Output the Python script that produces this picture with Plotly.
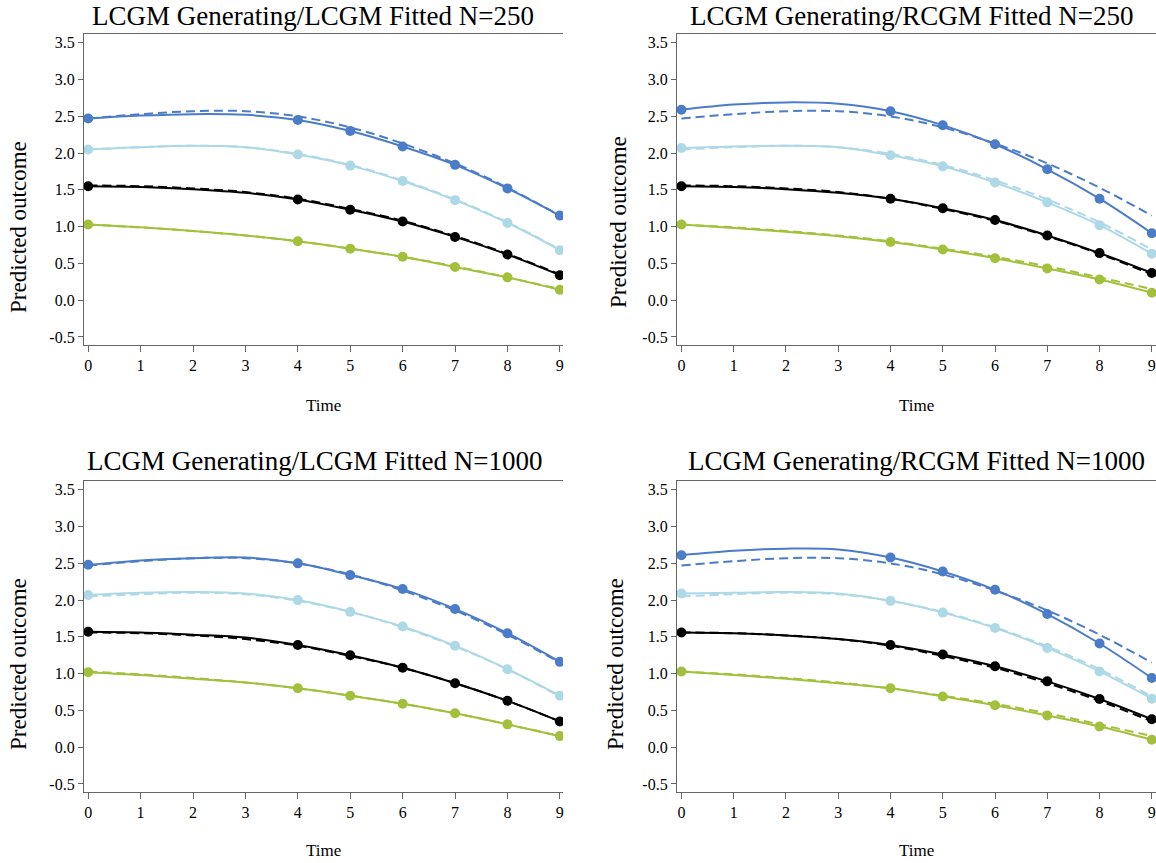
import plotly.graph_objects as go

W, H = 1156, 863

time = [0, 1, 2, 3, 4, 5, 6, 7, 8, 9]
observed = [True, False, False, False, True, True, True, True, True, True]
x_tick_vals = [0, 1, 2, 3, 4, 5, 6, 7, 8, 9]
y_tick_vals = [-0.5, 0.0, 0.5, 1.0, 1.5, 2.0, 2.5, 3.0, 3.5]
y_tick_text = ["-0.5", "0.0", "0.5", "1.0", "1.5", "2.0", "2.5", "3.0", "3.5"]

titles = [
    "LCGM Generating/LCGM Fitted N=250",
    "LCGM Generating/RCGM Fitted N=250",
    "LCGM Generating/LCGM Fitted N=1000",
    "LCGM Generating/RCGM Fitted N=1000",
]

# generating (true) trajectories - dashed
gen_blue = [2.47, 2.53, 2.57, 2.57, 2.50, 2.35, 2.13, 1.86, 1.53, 1.15]
gen_lightblue = [2.05, 2.08, 2.10, 2.08, 1.99, 1.84, 1.63, 1.37, 1.06, 0.69]
gen_black = [1.56, 1.55, 1.52, 1.47, 1.38, 1.24, 1.08, 0.87, 0.63, 0.35]
gen_green = [1.03, 0.99, 0.94, 0.88, 0.80, 0.70, 0.59, 0.46, 0.31, 0.15]

# fitted trajectories - solid with markers
tl_blue = [2.47, 2.51, 2.53, 2.52, 2.45, 2.30, 2.09, 1.84, 1.52, 1.15]
tl_lightblue = [2.05, 2.08, 2.10, 2.08, 1.98, 1.83, 1.62, 1.36, 1.05, 0.68]
tl_black = [1.55, 1.54, 1.51, 1.46, 1.37, 1.23, 1.07, 0.86, 0.62, 0.34]
tl_green = [1.03, 0.99, 0.94, 0.88, 0.80, 0.70, 0.59, 0.45, 0.31, 0.14]

tr_blue = [2.59, 2.66, 2.69, 2.67, 2.57, 2.38, 2.12, 1.78, 1.38, 0.91]
tr_lightblue = [2.07, 2.09, 2.10, 2.08, 1.97, 1.82, 1.60, 1.33, 1.02, 0.63]
tr_black = [1.55, 1.54, 1.51, 1.46, 1.38, 1.25, 1.09, 0.88, 0.64, 0.37]
tr_green = [1.03, 0.98, 0.93, 0.87, 0.79, 0.69, 0.57, 0.43, 0.28, 0.10]

bl_blue = [2.48, 2.54, 2.57, 2.58, 2.50, 2.34, 2.15, 1.88, 1.55, 1.16]
bl_lightblue = [2.07, 2.10, 2.11, 2.09, 2.00, 1.84, 1.64, 1.38, 1.06, 0.70]
bl_black = [1.57, 1.56, 1.53, 1.49, 1.39, 1.25, 1.08, 0.87, 0.63, 0.35]
bl_green = [1.02, 0.98, 0.93, 0.88, 0.80, 0.70, 0.59, 0.46, 0.31, 0.15]

br_blue = [2.61, 2.67, 2.70, 2.69, 2.58, 2.39, 2.14, 1.81, 1.41, 0.94]
br_lightblue = [2.09, 2.10, 2.11, 2.09, 1.99, 1.83, 1.62, 1.35, 1.03, 0.66]
br_black = [1.56, 1.55, 1.52, 1.47, 1.39, 1.26, 1.10, 0.895, 0.655, 0.38]
br_green = [1.03, 0.98, 0.93, 0.87, 0.80, 0.69, 0.57, 0.43, 0.28, 0.10]

colors = {"blue": "#4A7CC8", "lightblue": "#ADD8E6", "black": "#000000", "green": "#A2C03A"}
class_order = ["blue", "lightblue", "black", "green"]
generating = {"blue": gen_blue, "lightblue": gen_lightblue, "black": gen_black, "green": gen_green}
fitted = [
    {"blue": tl_blue, "lightblue": tl_lightblue, "black": tl_black, "green": tl_green},
    {"blue": tr_blue, "lightblue": tr_lightblue, "black": tr_black, "green": tr_green},
    {"blue": bl_blue, "lightblue": bl_lightblue, "black": bl_black, "green": bl_green},
    {"blue": br_blue, "lightblue": br_lightblue, "black": br_black, "green": br_green},
]

FONT = "Liberation Serif, Times New Roman, serif"

# panel geometry in pixels: (left, right, top, bottom), x range
panels = [
    (84, 563, 34, 345, [-0.08, 9.06]),
    (677, 1156, 34, 345, [-0.085, 9.08]),
    (84, 563, 481, 792, [-0.08, 9.06]),
    (677, 1156, 481, 792, [-0.085, 9.08]),
]
y_range = [-0.61, 3.62]

fig = go.Figure()
layout = {}
annotations = []

title_pos = [(313, 16), (911, 16), (314, 461), (916, 461)]
time_pos = [(323, 405), (916, 406), (323, 850), (916, 850)]
ytitle_pos = [(18, 227), (618, 222), (18, 664), (615, 664)]

msize = [10 if o else 0 for o in observed]

for i, (l, r, t, b, xr) in enumerate(panels):
    sfx = "" if i == 0 else str(i + 1)
    xa, ya = "x" + sfx, "y" + sfx
    for c in class_order:
        fig.add_trace(go.Scatter(
            x=time, y=generating[c], xaxis=xa, yaxis=ya, mode="lines",
            line=dict(color=colors[c], width=2, dash="9px,5px", shape="spline", smoothing=1),
            showlegend=False, hoverinfo="skip"))
    for c in class_order:
        fig.add_trace(go.Scatter(
            x=time, y=fitted[i][c], xaxis=xa, yaxis=ya, mode="lines+markers",
            line=dict(color=colors[c], width=2, shape="spline", smoothing=1),
            marker=dict(color=colors[c], size=msize, opacity=1,
                        line=dict(width=0, color=colors[c])),
            showlegend=False))
    axis_common = dict(showline=True, linecolor="#666666", linewidth=1.3, ticks="outside",
                       tickcolor="#666666", tickwidth=1.3, showgrid=False, zeroline=False,
                       tickfont=dict(family=FONT, size=16, color="black"))
    layout["xaxis" + sfx] = dict(domain=[l / W, r / W], range=xr, anchor=ya,
                                 tickvals=x_tick_vals, ticklen=6, mirror=True, **axis_common)
    layout["yaxis" + sfx] = dict(domain=[1 - b / H, 1 - t / H], range=y_range, anchor=xa,
                                 tickvals=y_tick_vals, ticktext=y_tick_text, ticklen=5,
                                 **axis_common)
    tx, ty = title_pos[i]
    annotations.append(dict(text=titles[i], x=tx / W, y=1 - ty / H, xref="paper", yref="paper",
                            xanchor="center", yanchor="middle", showarrow=False,
                            font=dict(family=FONT, size=27, color="black")))
    px, py = time_pos[i]
    annotations.append(dict(text="Time", x=px / W, y=1 - py / H, xref="paper", yref="paper",
                            xanchor="center", yanchor="middle", showarrow=False,
                            font=dict(family=FONT, size=17, color="black")))
    qx, qy = ytitle_pos[i]
    annotations.append(dict(text="Predicted outcome", x=qx / W, y=1 - qy / H, xref="paper",
                            yref="paper", xanchor="center", yanchor="middle", showarrow=False,
                            textangle=-90, font=dict(family=FONT, size=23, color="black")))

fig.update_layout(width=W, height=H, margin=dict(l=0, r=0, t=0, b=0),
                  paper_bgcolor="white", plot_bgcolor="white", annotations=annotations,
                  **layout)

fig.write_html("out.html", config={"displayModeBar": False},
               post_script="document.body.style.margin='0px';"
                           "document.body.style.overflow='hidden';")
